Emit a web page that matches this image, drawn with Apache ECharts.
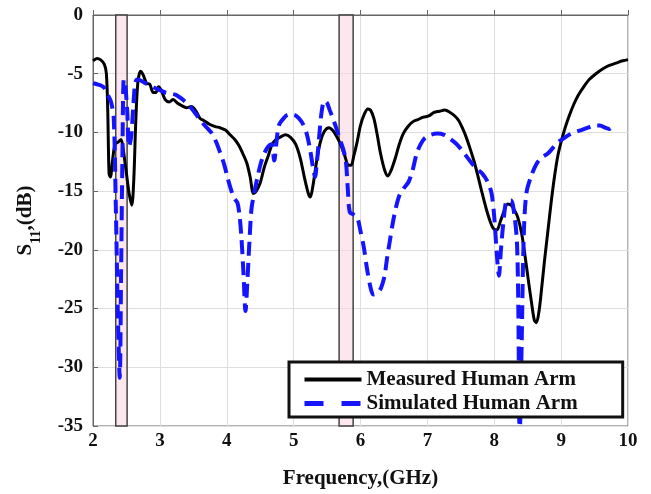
<!DOCTYPE html>
<html>
<head>
<meta charset="utf-8">
<script src="https://cdn.jsdelivr.net/npm/echarts@6/dist/echarts.min.js"></script>
<style>
html,body{margin:0;padding:0;background:#fff;}
#c{width:651px;height:494px;}
</style>
</head>
<body>
<div id="c"></div>
<script>
var xTicks = [2, 3, 4, 5, 6, 7, 8, 9, 10];
var yTicks = [-35, -30, -25, -20, -15, -10, -5, 0];
var bandRanges = [[2.34, 2.51], [5.68, 5.89]];
var seriesNames = ['Measured Human Arm', 'Simulated Human Arm'];

var measuredFreq = [2.00,2.06,2.11,2.17,2.20,2.22,2.24,2.26,2.29,2.33,2.38,2.42,2.46,2.50,2.54,2.58,2.61,2.64,2.67,2.71,2.75,2.80,2.85,2.90,2.94,2.98,3.02,3.08,3.14,3.20,3.26,3.32,3.40,3.47,3.53,3.60,3.66,3.74,3.83,3.90,3.98,4.05,4.12,4.18,4.24,4.30,4.35,4.40,4.44,4.50,4.56,4.62,4.68,4.74,4.80,4.88,4.95,5.03,5.10,5.16,5.22,5.25,5.29,5.34,5.40,5.46,5.53,5.58,5.64,5.70,5.76,5.82,5.86,5.90,5.95,6.00,6.06,6.11,6.15,6.20,6.25,6.30,6.36,6.41,6.46,6.52,6.58,6.64,6.71,6.78,6.86,6.94,7.02,7.10,7.18,7.26,7.34,7.41,7.47,7.53,7.58,7.64,7.70,7.76,7.82,7.88,7.94,7.99,8.04,8.09,8.14,8.20,8.25,8.30,8.35,8.41,8.46,8.51,8.56,8.60,8.63,8.67,8.71,8.75,8.80,8.85,8.90,8.95,9.00,9.06,9.12,9.19,9.26,9.34,9.42,9.52,9.62,9.72,9.82,9.92,10.00];
var measuredDb = [-3.9,-3.7,-3.8,-4.2,-5.0,-8.0,-13.5,-13.8,-12.5,-11.0,-10.8,-10.6,-11.8,-13.5,-15.2,-16.2,-14.0,-9.0,-5.8,-4.8,-5.1,-5.8,-5.9,-6.6,-6.6,-6.1,-6.4,-7.2,-7.4,-7.2,-7.5,-7.7,-7.9,-7.8,-8.1,-8.8,-9.0,-9.3,-9.5,-9.6,-9.8,-10.2,-10.6,-11.1,-11.8,-12.6,-13.8,-15.2,-15.0,-14.3,-13.0,-12.0,-11.0,-10.6,-10.4,-10.2,-10.4,-11.0,-12.2,-13.8,-15.2,-15.5,-14.5,-12.6,-10.8,-9.9,-9.6,-9.8,-10.3,-11.0,-11.9,-12.8,-12.8,-12.0,-10.8,-9.4,-8.4,-8.0,-8.1,-8.8,-10.2,-11.8,-13.2,-13.7,-13.2,-12.2,-11.0,-10.1,-9.5,-9.1,-8.9,-8.7,-8.6,-8.3,-8.2,-8.1,-8.3,-8.6,-9.0,-9.7,-10.4,-11.4,-12.5,-13.8,-15.2,-16.5,-17.6,-18.2,-18.3,-17.6,-16.8,-16.1,-16.2,-16.6,-17.2,-18.6,-20.5,-22.6,-24.6,-26.0,-26.2,-25.2,-23.2,-21.0,-18.5,-16.0,-13.8,-12.0,-10.8,-9.6,-8.6,-7.6,-6.8,-6.1,-5.5,-5.0,-4.6,-4.3,-4.1,-3.9,-3.8];

var simFreq = [2.00,2.06,2.12,2.17,2.22,2.27,2.31,2.34,2.37,2.40,2.42,2.44,2.46,2.48,2.51,2.54,2.57,2.60,2.63,2.66,2.72,2.78,2.85,2.92,3.00,3.08,3.16,3.24,3.32,3.40,3.48,3.56,3.64,3.72,3.78,3.84,3.90,3.96,4.01,4.06,4.11,4.16,4.19,4.22,4.25,4.28,4.31,4.34,4.37,4.41,4.46,4.51,4.56,4.62,4.67,4.71,4.74,4.78,4.85,4.92,5.00,5.08,5.15,5.20,5.25,5.29,5.32,5.35,5.38,5.42,5.46,5.50,5.54,5.58,5.63,5.68,5.74,5.78,5.81,5.84,5.90,5.95,6.00,6.05,6.10,6.15,6.19,6.25,6.31,6.36,6.40,6.44,6.48,6.53,6.58,6.64,6.72,6.78,6.84,6.90,6.96,7.05,7.15,7.25,7.33,7.42,7.50,7.58,7.66,7.74,7.82,7.90,7.96,8.00,8.04,8.07,8.10,8.14,8.19,8.25,8.30,8.34,8.36,8.38,8.41,8.44,8.48,8.56,8.64,8.72,8.80,8.88,8.96,9.04,9.12,9.20,9.30,9.40,9.50,9.58,9.66,9.72,9.78];
var simDb = [-5.8,-5.9,-6.0,-6.2,-6.8,-7.4,-8.8,-16.0,-25.0,-30.9,-22.0,-12.0,-5.5,-5.8,-8.0,-11.2,-10.4,-8.0,-5.8,-5.5,-5.6,-5.8,-6.0,-6.2,-6.4,-6.6,-6.7,-6.8,-7.1,-7.5,-8.0,-8.6,-9.2,-9.7,-10.1,-10.8,-11.7,-12.7,-13.8,-14.8,-15.6,-16.0,-17.0,-19.0,-22.0,-25.2,-22.5,-19.2,-16.5,-15.2,-13.8,-12.6,-11.8,-11.2,-11.0,-12.4,-11.0,-9.4,-8.8,-8.5,-8.5,-8.8,-9.4,-10.2,-11.6,-13.0,-13.8,-12.4,-10.5,-8.2,-7.3,-7.5,-8.1,-8.7,-9.5,-10.4,-11.4,-12.4,-14.8,-16.8,-17.0,-17.2,-18.4,-19.8,-21.7,-23.2,-23.8,-23.7,-23.2,-22.2,-20.6,-19.2,-17.8,-16.4,-15.4,-14.8,-14.2,-13.2,-11.8,-11.0,-10.5,-10.2,-10.1,-10.2,-10.5,-10.9,-11.4,-12.0,-12.6,-13.1,-13.5,-14.2,-15.2,-17.2,-20.5,-22.2,-20.0,-17.5,-15.8,-15.8,-17.0,-19.4,-25.0,-36.0,-28.0,-19.0,-15.2,-13.6,-12.6,-12.1,-11.8,-11.3,-10.8,-10.5,-10.2,-10.0,-9.8,-9.6,-9.4,-9.4,-9.6,-9.7,-9.4];

function pairs(xs, ys){ return xs.map(function(x,i){ return [x, ys[i]]; }); }

var FONT = 'Liberation Serif';
var chart = echarts.init(document.getElementById('c'), null, {renderer:'canvas'});
chart.setOption({
  animation: false,
  backgroundColor: '#fff',
  grid: {left: 93, right: 23, top: 15, bottom: 68, show: true, borderColor: '#666', borderWidth: 1, backgroundColor: 'transparent'},
  xAxis: {
    type: 'value', min: xTicks[0], max: xTicks[xTicks.length-1], interval: 1,
    name: 'Frequency,(GHz)', nameLocation: 'middle', nameGap: 42,
    nameTextStyle: {fontFamily: FONT, fontWeight: 'bold', fontSize: 21, color: '#111'},
    axisLine: {show: true, lineStyle: {color: '#666', width: 1}},
    axisTick: {show: true, inside: true, length: 5, lineStyle: {color: '#666'}},
    axisLabel: {fontFamily: FONT, fontWeight: 'bold', fontSize: 19, color: '#111', margin: 6},
    splitLine: {show: true, lineStyle: {color: '#dedede', width: 1}}
  },
  yAxis: {
    type: 'value', min: yTicks[0], max: yTicks[yTicks.length-1], interval: 5,
    name: '{s|S}{sub|11}{s|,(dB)}', nameLocation: 'middle', nameGap: 50, nameRotate: 90,
    nameTextStyle: {
      color: '#111',
      rich: {
        s: {fontFamily: FONT, fontWeight: 'bold', fontSize: 21, color: '#111', verticalAlign: 'top', lineHeight: 28},
        sub: {fontFamily: FONT, fontWeight: 'bold', fontSize: 14, color: '#111', verticalAlign: 'bottom', lineHeight: 28}
      }
    },
    axisLine: {show: true, lineStyle: {color: '#666', width: 1}},
    axisTick: {show: true, inside: true, length: 5, lineStyle: {color: '#666'}},
    axisLabel: {fontFamily: FONT, fontWeight: 'bold', fontSize: 19, color: '#111', margin: 10},
    splitLine: {show: true, lineStyle: {color: '#dedede', width: 1}}
  },
  legend: {
    orient: 'vertical', left: 289, top: 362, z: 20,
    data: [
      {name: seriesNames[0], lineStyle: {width: 4, color: '#000'}},
      {name: seriesNames[1], lineStyle: {width: 5, color: '#1414ff', type: [19, 18]}}
    ],
    itemWidth: 57, itemHeight: 14, itemGap: 3,
    padding: [7, 45, 3, 13],
    itemStyle: {opacity: 0},
    backgroundColor: '#fff', borderColor: '#111', borderWidth: 3,
    textStyle: {fontFamily: FONT, fontWeight: 'bold', fontSize: 21, color: '#111'}
  },
  series: [
    {
      name: seriesNames[0], type: 'line', data: pairs(measuredFreq, measuredDb),
      showSymbol: false, symbol: 'none', smooth: 0.3, z: 2,
      lineStyle: {color: '#000', width: 3},
      itemStyle: {color: '#000'},
      markArea: {
        silent: true,
        itemStyle: {color: 'rgba(248,215,225,0.6)', borderColor: '#444', borderWidth: 1.5},
        data: bandRanges.map(function(r){ return [{xAxis: r[0]}, {xAxis: r[1]}]; })
      }
    },
    {
      name: seriesNames[1], type: 'line', data: pairs(simFreq, simDb),
      showSymbol: false, symbol: 'none', smooth: 0.3, z: 2,
      lineStyle: {color: '#1414ff', width: 4, type: [14, 7]},
      itemStyle: {color: '#1414ff'}
    }
  ]
});
</script>
</body>
</html>
